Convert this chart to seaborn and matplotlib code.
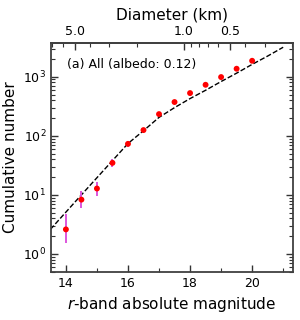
import numpy as np
import pandas as pd
import matplotlib
matplotlib.use('Agg')
import matplotlib.pyplot as plt
import seaborn as sns
from matplotlib.ticker import FixedLocator, FormatStrFormatter, NullFormatter, LogLocator

# measured cumulative counts
mag = [14.0, 14.5, 15.0, 15.5, 16.0, 16.5, 17.0, 17.5, 18.0, 18.5, 19.0, 19.5, 20.0]
count = [2.6, 8.3, 12.8, 34.8, 73, 125, 233, 373, 529, 731, 988, 1367, 1864]
err_lo = [1.05, 2.35, 3.1, 5.3, 8.0, 10.0, 13.0, 17.0, 20.0, 24.0, 28.0, 33.0, 38.0]
err_hi = [2.1, 3.5, 4.0, 5.2, 8.0, 10.0, 13.0, 17.0, 20.0, 24.0, 28.0, 33.0, 38.0]

# model curve (dashed)
fit_mag = [13.5, 14.0, 14.5, 15.0, 15.5, 16.0, 16.5, 17.0, 17.5, 18.0, 18.5, 19.0, 19.5, 20.0, 20.5, 21.0]
fit_count = [2.6, 5.1, 10, 19.5, 38, 74, 122, 205, 300, 427, 590, 830, 1150, 1620, 2240, 3160]

d_ticks = [5.0, 1.0, 0.5]
d_minor = [7, 6, 4, 3, 2, 0.9, 0.8, 0.7, 0.6, 0.4, 0.3, 0.2]
H0 = 17.79  # H for D = 1 km at albedo 0.12

df = pd.DataFrame({'mag': mag, 'count': count})
fit = pd.DataFrame({'mag': fit_mag, 'count': fit_count})

sns.set_style('ticks')
plt.rcParams['font.family'] = ['DejaVu Sans']
plt.rcParams['text.color'] = 'black'
plt.rcParams['axes.labelcolor'] = 'black'
plt.rcParams['xtick.labelcolor'] = 'black'
plt.rcParams['ytick.labelcolor'] = 'black'

fig = plt.figure(figsize=(3.0, 3.2), dpi=100)
ax = fig.add_axes([0.17, 0.151, 0.807, 0.714])

sns.lineplot(data=fit, x='mag', y='count', ax=ax, color='black', lw=1.0,
             linestyle='--', dashes=(4, 2))
ax.errorbar(mag, count, yerr=[err_lo, err_hi], fmt='none', ecolor='#dd55dd',
            elinewidth=1.4, capsize=0, zorder=3)
sns.scatterplot(data=df, x='mag', y='count', ax=ax, color='red', s=18,
                edgecolor='none', zorder=4)

ax.set_yscale('log')
ax.set_xlim(13.52, 21.32)
ax.set_ylim(0.5, 3700)
ax.set_xticks([14, 16, 18, 20])
ax.set_xticks([15, 17, 19, 21], minor=True)
ax.yaxis.set_major_locator(LogLocator(base=10, numticks=10))
ax.yaxis.set_minor_locator(LogLocator(base=10, subs=np.arange(2, 10), numticks=10))
ax.yaxis.set_minor_formatter(NullFormatter())

ax.tick_params(which='both', direction='in', top=False, right=True,
               labelsize=9, color='0.2')
ax.tick_params(which='major', length=5, width=1)
ax.tick_params(which='minor', length=3, width=0.8)
for s in ax.spines.values():
    s.set_linewidth(1.3)
    s.set_color('0.25')

ax.set_xlabel(r'$r$-band absolute magnitude', fontsize=11)
ax.set_ylabel('Cumulative number', fontsize=11)

def h2d(h):
    return 10 ** ((H0 - np.asarray(h)) / 5.0)

def d2h(d):
    d = np.clip(np.asarray(d, dtype=float), 1e-6, None)
    return H0 - 5.0 * np.log10(d)

sec = ax.secondary_xaxis('top', functions=(h2d, d2h))
sec.xaxis.set_major_locator(FixedLocator(d_ticks))
sec.xaxis.set_minor_locator(FixedLocator(d_minor))
sec.xaxis.set_major_formatter(FormatStrFormatter('%.1f'))
sec.xaxis.set_minor_formatter(NullFormatter())
sec.tick_params(which='both', direction='in', labelsize=9, color='0.2')
sec.tick_params(which='major', length=5, width=1)
sec.tick_params(which='minor', length=3, width=0.8)
sec.spines['top'].set_linewidth(1.3)
sec.spines['top'].set_color('0.25')
sec.set_xlabel('Diameter (km)', fontsize=11)

ax.text(0.066, 0.905, '(a) All (albedo: 0.12)', transform=ax.transAxes,
        fontsize=9, va='center', ha='left')

fig.savefig('out.png', dpi=100)
